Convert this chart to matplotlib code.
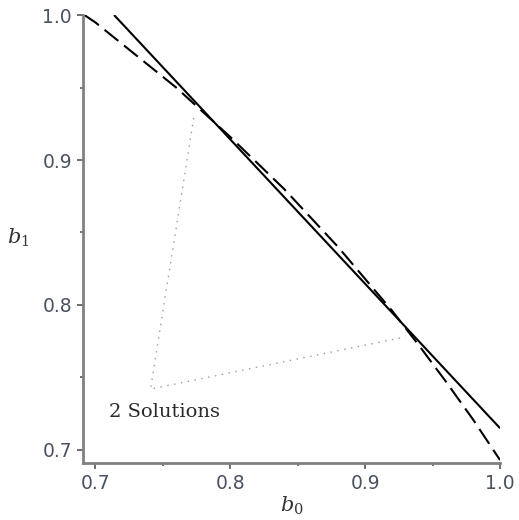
"""
Two-solution plot: straight line vs. circular arc in the (b0, b1) plane.
Produces out.png
"""
import matplotlib.pyplot as plt
from matplotlib.ticker import MultipleLocator

plt.rcParams["mathtext.fontset"] = "dejavuserif"

# --- Data ---
line_b0 = [0.714, 1.000]
line_b1 = [1.000, 0.715]

arc_b0 = [0.692, 0.70, 0.72, 0.74, 0.76, 0.78, 0.80, 0.82, 0.84,
          0.86, 0.88, 0.90, 0.92, 0.94, 0.96, 0.98, 1.00]
arc_b1 = [1.000, 0.995, 0.980, 0.965, 0.950, 0.933, 0.916, 0.898, 0.880,
          0.860, 0.840, 0.818, 0.796, 0.772, 0.747, 0.721, 0.693]

# dotted pointer from the label to the two intersections
ptr_b0 = [0.773, 0.741, 0.930]
ptr_b1 = [0.929, 0.742, 0.778]

label_text = "2 Solutions"
label_pos = (0.7104, 0.7262)

xticks = [0.7, 0.8, 0.9, 1.0]
yticks = [0.7, 0.8, 0.9, 1.0]

# --- Plot ---
fig = plt.figure(figsize=(5.19, 5.20), dpi=100)
ax = fig.add_axes([0.160, 0.1096, 0.8035, 0.8615])

ax.plot(line_b0, line_b1, color="black", linewidth=1.5, solid_capstyle="butt")
ax.plot(arc_b0, arc_b1, color="black", linewidth=1.5, linestyle=(0, (8.5, 3.5)))
ax.plot(ptr_b0, ptr_b1, color="#9a9a9a", linewidth=1.0, linestyle=(0, (1, 4)))

ax.text(label_pos[0], label_pos[1], label_text, family="DejaVu Serif",
        fontsize=14, color="#2a2a2a", va="center", ha="left")

ax.set_xlim(0.691, 1.0)
ax.set_ylim(0.691, 1.0)
ax.set_xticks(xticks)
ax.set_yticks(yticks)
ax.set_xticklabels([f"{t:.1f}" for t in xticks])
ax.set_yticklabels([f"{t:.1f}" for t in yticks])
ax.xaxis.set_minor_locator(MultipleLocator(0.05))
ax.yaxis.set_minor_locator(MultipleLocator(0.05))

for side in ("top", "right"):
    ax.spines[side].set_visible(False)
for side in ("left", "bottom"):
    ax.spines[side].set_color("#808080")
    ax.spines[side].set_linewidth(2)
    ax.spines[side].set_clip_on(False)

ax.tick_params(which="major", length=4, width=1.2, color="#555555",
               labelsize=13.5, labelcolor="#4a5260", pad=4)
ax.tick_params(which="minor", length=2, width=1.2, color="#555555")

# axis labels placed like the original (b1 sits horizontally, left of the axis)
ax.text(-0.156, 0.502, "$b_1$", transform=ax.transAxes, fontsize=15,
        color="#333333", ha="center", va="center")
ax.text(0.501, -0.096, "$b_0$", transform=ax.transAxes, fontsize=15,
        color="#333333", ha="center", va="center")

fig.savefig("out.png", dpi=100)
